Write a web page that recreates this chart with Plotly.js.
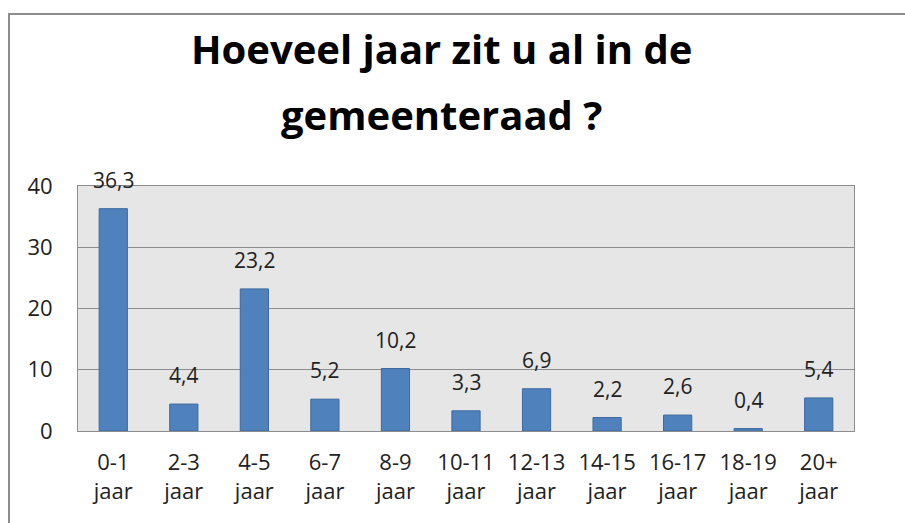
<!DOCTYPE html>
<html>
<head>
<meta charset="utf-8">
<script src="https://cdn.plot.ly/plotly-3.0.1.min.js"></script>
<style>
  html, body { margin: 0; padding: 0; background: #fff; }
  #chart { width: 905px; height: 523px; }
</style>
</head>
<body>
<div id="chart"></div>
<script>
// Categories and percentages
const categories = ['0-1<br>jaar', '2-3<br>jaar', '4-5<br>jaar', '6-7<br>jaar', '8-9<br>jaar',
    '10-11<br>jaar', '12-13<br>jaar', '14-15<br>jaar', '16-17<br>jaar', '18-19<br>jaar', '20+<br>jaar'];
const values = [36.3, 4.4, 23.2, 5.2, 10.2, 3.3, 6.9, 2.2, 2.6, 0.4, 5.4];
const yTicks = [0, 10, 20, 30, 40];
const titleLines = ['Hoeveel jaar zit u al in de', 'gemeenteraad ?'];

const FONT = '"Open Sans", "Noto Sans", sans-serif';
const PLOT_TOP = 186, PLOT_BOTTOM = 431;
const pxToPaper = p => (PLOT_BOTTOM - p) / (PLOT_BOTTOM - PLOT_TOP);

const trace = {
    type: 'bar',
    x: categories,
    y: values,
    width: 0.4,
    marker: {
        color: '#4f81bd',
        line: { color: '#3d6a9e', width: 1 }
    },
    hoverinfo: 'x+y'
};

// value labels, Dutch decimal comma, sitting a bit above each bar
const labels = categories.map((c, i) => ({
    x: c,
    y: values[i],
    xref: 'x', yref: 'y',
    text: values[i].toFixed(1).replace('.', ','),
    showarrow: false,
    yanchor: 'bottom',
    yshift: 13,
    font: { family: FONT, size: 21, color: '#222' }
}));

// second title line: the original has wide line spacing, so it gets its own text
labels.push({
    x: 0.469, y: pxToPaper(114),
    xref: 'paper', yref: 'paper',
    xanchor: 'center', yanchor: 'middle',
    text: titleLines[1],
    showarrow: false,
    font: { family: FONT, size: 40, color: '#000', weight: 'bold' }
});

const layout = {
    width: 905,
    height: 523,
    margin: { l: 78, r: 51, t: PLOT_TOP, b: 523 - PLOT_BOTTOM },
    paper_bgcolor: '#ffffff',
    plot_bgcolor: '#e6e6e6',
    font: { family: FONT, color: '#222' },
    title: {
        text: titleLines[0],
        font: { family: FONT, size: 40, color: '#000', weight: 'bold' },
        x: 0.488,
        xanchor: 'center',
        y: 1 - 50 / 523,
        yanchor: 'middle'
    },
    showlegend: false,
    xaxis: {
        type: 'category',
        tickfont: { family: FONT, size: 22, color: '#222' },
        ticks: '',
        ticklabelstandoff: 12,
        showline: true,
        linecolor: '#8c8c8c',
        mirror: true,
        showgrid: false
    },
    yaxis: {
        range: [0, 40],
        tickvals: yTicks,
        ticktext: yTicks.map(String),
        tickfont: { family: FONT, size: 22, color: '#222' },
        ticks: '',
        ticklabelstandoff: 20,
        showgrid: true,
        gridcolor: '#8c8c8c',
        gridwidth: 1,
        zeroline: false,
        showline: true,
        linecolor: '#8c8c8c',
        mirror: true
    },
    annotations: labels,
    shapes: [{
        // outer frame: only its left and top edges are inside the picture
        type: 'rect',
        xref: 'paper', yref: 'paper',
        x0: -69 / 776, x1: 1.2,
        y0: -0.5, y1: pxToPaper(14),
        line: { color: '#8c8c8c', width: 2 },
        fillcolor: 'rgba(0,0,0,0)',
        layer: 'below'
    }]
};

Plotly.newPlot('chart', [trace], layout, { displayModeBar: false, staticPlot: true });
</script>
</body>
</html>
